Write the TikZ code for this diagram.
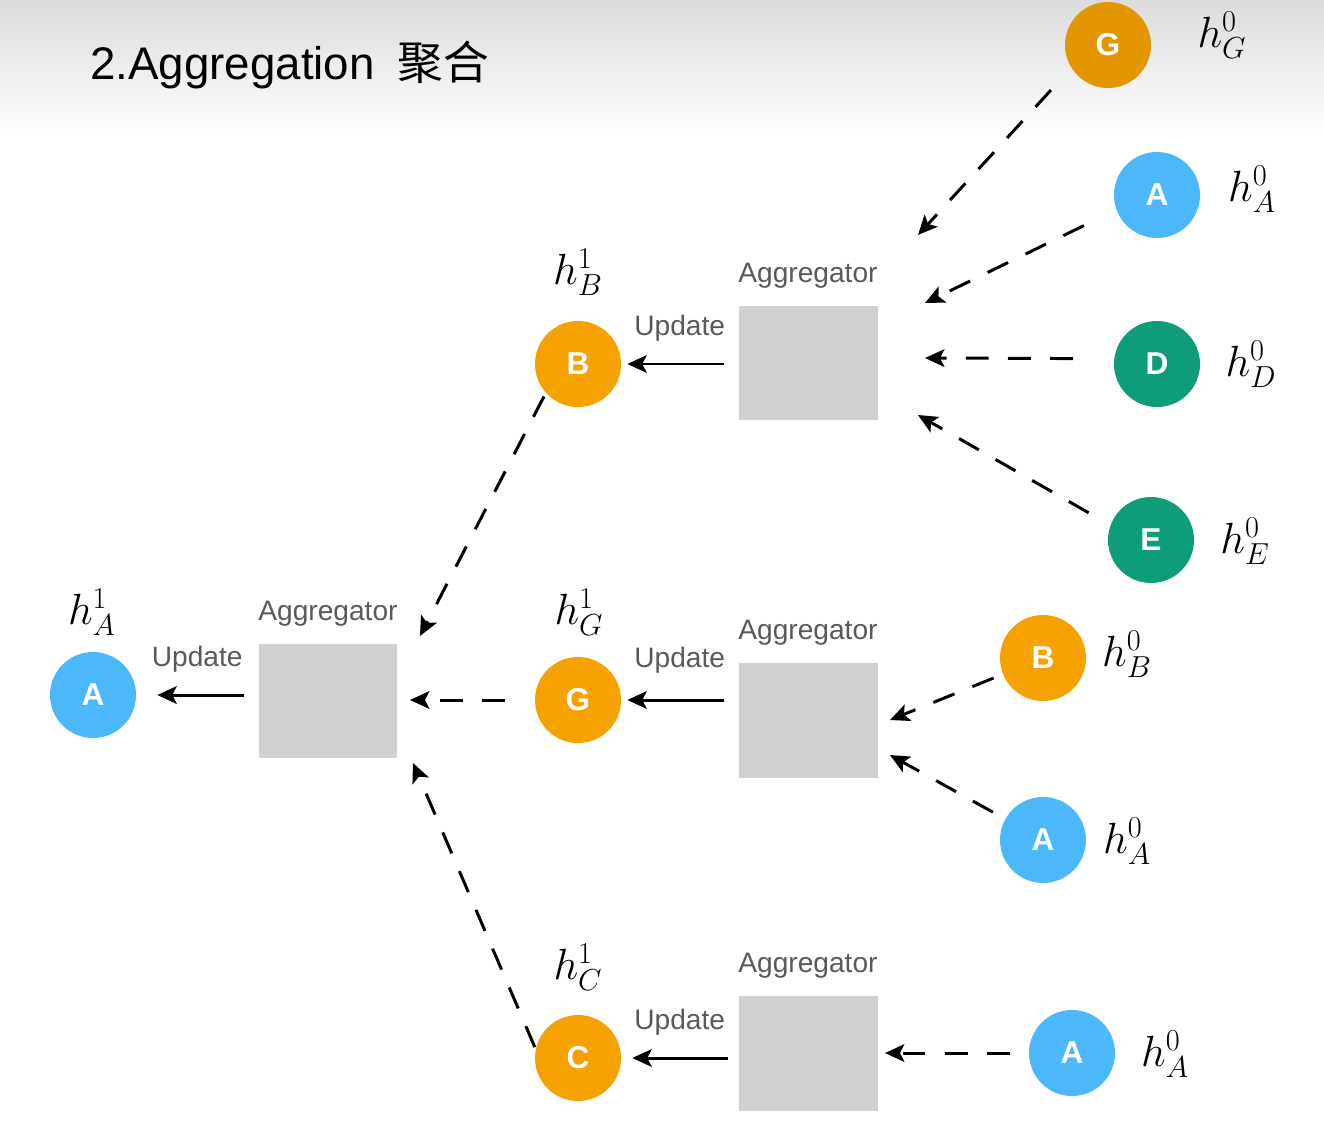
\documentclass[tikz,border=0pt]{standalone}
\usepackage{fontspec}
\setmainfont{Liberation Sans}
\newfontfamily\cjkfont{Noto Sans CJK SC}
\usetikzlibrary{arrows.meta, positioning}

\definecolor{nodeorange}{HTML}{F5A100}
\definecolor{nodeblue}{HTML}{4CB8FA}
\definecolor{nodegreen}{HTML}{0E9C7A}
\definecolor{boxgray}{HTML}{D0D0D0}
\definecolor{labelgray}{HTML}{595959}

\tikzset{
  vertex/.style={circle, minimum size=1.72cm, inner sep=0pt, text=white, font=\fontsize{18}{21}\selectfont\bfseries},
  aggbox/.style={fill=boxgray, minimum width=2.78cm, minimum height=2.3cm, inner sep=0pt},
  agglabel/.style={text=labelgray, font=\fontsize{16}{19}\selectfont},
  hlabel/.style={font=\fontsize{23}{28}\selectfont},
  update/.style={-{Stealth[length=11pt,width=10pt,inset=2.5pt]}, line width=1.7pt},
  message/.style={update, dash pattern=on 13pt off 11pt},
}

\begin{document}
\begin{tikzpicture}[x=0.02cm, y=-0.02cm]
\useasboundingbox (0,0) rectangle (1324,1122);
\shade[top color=black!14, bottom color=white] (0,0) rectangle (1324,135);

% title
\node[anchor=base west, inner sep=0pt, font=\fontsize{26}{30}\selectfont] (title) at (90,80)
  {2.Aggregation\hspace{0.5em}{\cjkfont 聚合}};

% layer 0 (neighbours)
\node[vertex, fill=nodeorange!93!black] (gT) at (1108,45) {G};
\node[vertex, fill=nodeblue] (aT) at (1157,195) {A};
\node[vertex, fill=nodegreen] (dT) at (1157,364) {D};
\node[vertex, fill=nodegreen] (eT) at (1151,540) {E};
\node[vertex, fill=nodeorange] (bR) at (1043,658) {B};
\node[vertex, fill=nodeblue] (aR) at (1043,840) {A};
\node[vertex, fill=nodeblue] (aB) at (1072,1053) {A};

\node[hlabel] (hGT) at (1222,35) {$h_G^0$};
\node[hlabel] (hAT) at (1252,189) {$h_A^0$};
\node[hlabel] (hDT) at (1251,364) {$h_D^0$};
\node[hlabel] (hET) at (1245,541) {$h_E^0$};
\node[hlabel] (hBR) at (1127,654) {$h_B^0$};
\node[hlabel] (hAR) at (1127,841) {$h_A^0$};
\node[hlabel] (hAB) at (1165,1054) {$h_A^0$};

% aggregators
\node[aggbox] (aggT) at (808,363) {};
\node[aggbox] (aggM) at (808,720) {};
\node[aggbox] (aggB) at (808,1053) {};
\node[aggbox] (aggL) at (328,701) {};
\node[agglabel, above=6pt of aggT] (aggTlbl) {Aggregator};
\node[agglabel, above=6pt of aggM] (aggMlbl) {Aggregator};
\node[agglabel, above=6pt of aggB] (aggBlbl) {Aggregator};
\node[agglabel, above=6pt of aggL] (aggLlbl) {Aggregator};

% layer 1
\node[vertex, fill=nodeorange] (bM) at (578,364) {B};
\node[vertex, fill=nodeorange] (gM) at (578,700) {G};
\node[vertex, fill=nodeorange] (cM) at (578,1058) {C};
\node[vertex, fill=nodeblue] (aL) at (93,695) {A};

\node[hlabel] (hBM) at (578,272) {$h_B^1$};
\node[hlabel] (hGM) at (579,612) {$h_G^1$};
\node[hlabel] (hCM) at (578,967) {$h_C^1$};
\node[hlabel] (hAL) at (92,612) {$h_A^1$};

% arrow ends at the aggregators
\coordinate (inGT) at (918,235);
\coordinate (inAT) at (925,303);
\coordinate (inDT) at (925,358);
\coordinate (inET) at (918,415);
\coordinate (inBR) at (890,720);
\coordinate (inAR) at (890,755);
\coordinate (inAB) at (885,1053);
\coordinate (inBM) at (420,636);
\coordinate (inGM) at (410,700);
\coordinate (inCM) at (413,763);

% messages
\draw[message, shorten <=0.6cm] (gT.212) -- (inGT);
\draw[message, shorten <=0.72cm] (aT.200) -- (inAT);
\draw[message, shorten <=0.82cm] (dT.173) -- (inDT);
\draw[message, shorten <=0.5cm] (eT.160) -- (inET);
\draw[message, shorten <=0.2cm] (bR) -- (inBR);
\draw[message, shorten <=0.28cm] (aR) -- (inAR);
\draw[message, shorten <=0.38cm] (aB) -- (inAB);
\draw[message, shorten <=0.08cm] (bM.222) -- (inBM);
\draw[message, shorten <=0.6cm] (gM) -- (inGM);
\draw[message, shorten <=0.04cm] (cM.168) -- (inCM);

% updates
\draw[update, shorten <=0.28cm, shorten >=0.12cm] (aggT.west |- bM) -- (bM.east)
  node[midway, above=9pt, agglabel] (updT) {Update};
\draw[update, shorten <=0.28cm, shorten >=0.12cm] (aggM.west |- gM) -- (gM.east)
  node[midway, above=11pt, agglabel] (updM) {Update};
\draw[update, shorten <=0.2cm, shorten >=0.22cm] (aggB.west |- cM) -- (cM.east)
  node[midway, above=9pt, agglabel] (updB) {Update};
\draw[update, shorten <=0.28cm, shorten >=0.42cm] (aggL.west |- aL) -- (aL.east)
  node[midway, above=9pt, agglabel] (updL) {Update};
\end{tikzpicture}
\end{document}
